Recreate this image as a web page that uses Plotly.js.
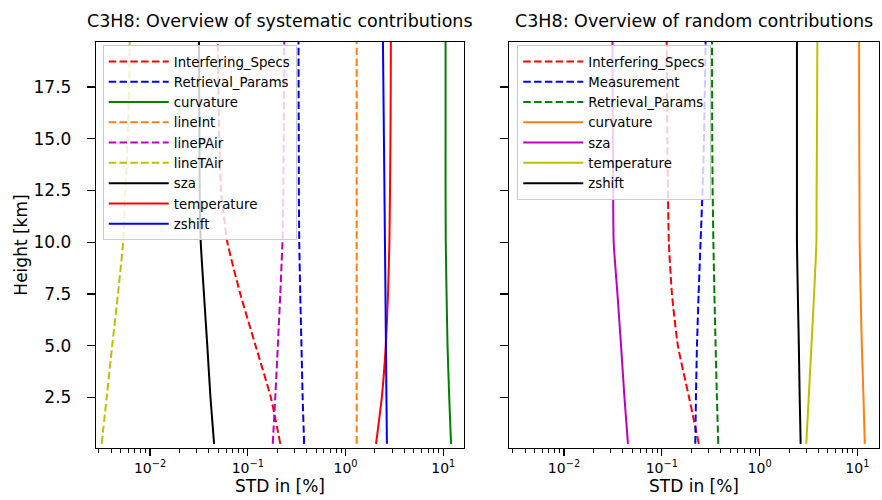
<!DOCTYPE html>
<html>
<head>
<meta charset="utf-8">
<script src="https://cdn.plot.ly/plotly-3.0.1.min.js"></script>
<style>html,body{margin:0;padding:0;background:#fff;}#chart{width:882px;height:500px;}</style>
</head>
<body>
<div id="chart"></div>
<script>
// Heights [km]
const heights = [0.25, 2.5, 5, 7.5, 10, 12.5, 15, 17.5, 20];

// Systematic contributions (STD in %)
const sysInterferingSpecs = [0.215, 0.172, 0.120, 0.0838, 0.0618, 0.0531, 0.0510, 0.0500, 0.0490];
const sysRetrievalParams  = [0.377, 0.364, 0.354, 0.344, 0.336, 0.333, 0.332, 0.331, 0.330];
const sysCurvature        = [12.0, 11.5, 11.05, 10.8, 10.6, 10.55, 10.55, 10.55, 10.55];
const sysLineInt          = [1.30, 1.30, 1.30, 1.30, 1.30, 1.30, 1.30, 1.30, 1.30];
const sysLinePAir         = [0.180, 0.191, 0.203, 0.215, 0.226, 0.231, 0.233, 0.235, 0.236];
const sysLineTAir         = [0.0032, 0.0036, 0.0041, 0.0047, 0.0053, 0.00558, 0.0059, 0.0061, 0.0062];
const sysSza              = [0.0452, 0.0415, 0.0385, 0.0356, 0.0330, 0.0322, 0.0320, 0.0318, 0.0317];
const sysTemperature      = [2.05, 2.35, 2.58, 2.72, 2.81, 2.85, 2.88, 2.90, 2.91];
const sysZshift           = [2.65, 2.62, 2.59, 2.56, 2.53, 2.50, 2.47, 2.44, 2.41];

// Random contributions (STD in %)
const rndInterferingSpecs = [0.239, 0.190, 0.146, 0.127, 0.118, 0.1155, 0.114, 0.113, 0.112];
const rndMeasurement      = [0.220, 0.2235, 0.229, 0.238, 0.249, 0.261, 0.270, 0.276, 0.281];
const rndRetrievalParams  = [0.378, 0.366, 0.355, 0.345, 0.337, 0.331, 0.328, 0.327, 0.326];
const rndCurvature        = [11.9, 11.55, 11.1, 10.8, 10.55, 10.5, 10.45, 10.42, 10.4];
const rndSza              = [0.0451, 0.0415, 0.0383, 0.0352, 0.0322, 0.0318, 0.0316, 0.0314, 0.0313];
const rndTemperature      = [3.00, 3.18, 3.39, 3.61, 3.81, 3.83, 3.86, 3.88, 3.90];
const rndZshift           = [2.63, 2.57, 2.52, 2.46, 2.41, 2.41, 2.41, 2.41, 2.41];

// Tick labels
const xTickVals = [0.01, 0.1, 1, 10];
const xTickText = ['10<sup>\u22122</sup>', '10<sup>\u22121</sup>', '10<sup>0</sup>', '10<sup>1</sup>'];
const yTickVals = [2.5, 5.0, 7.5, 10.0, 12.5, 15.0, 17.5];
const yTickText = ['2.5', '5.0', '7.5', '10.0', '12.5', '15.0', '17.5'];

const titles = ['C3H8: Overview of systematic contributions', 'C3H8: Overview of random contributions'];
const xTitle = 'STD in [%]';
const yTitle = 'Height [km]';

// minor tick positions for log axis
const minorVals = [];
[0.001, 0.01, 0.1, 1, 10].forEach(d => { for (let k = 2; k <= 9; k++) minorVals.push(d * k); });

const C = {r:'#ff0000', b:'#0000ff', g:'#008000', o:'#ff7f0e', m:'#bf00bf', y:'#bfbf00', k:'#000000'};
const DASH = '7.5px,3.3px';
const LW = 2;

function tr(name, x, color, dashed, axis, legend) {
  return {
    type: 'scatter', mode: 'lines', name: name, x: x, y: heights,
    xaxis: axis[0], yaxis: axis[1], legend: legend,
    line: {color: color, width: LW, dash: dashed ? DASH : 'solid', shape: 'spline', smoothing: 0.5}
  };
}
const A1 = ['x', 'y'], A2 = ['x2', 'y2'];
const data = [
  tr('Interfering_Specs', sysInterferingSpecs, C.r, true, A1, 'legend'),
  tr('Retrieval_Params', sysRetrievalParams, C.b, true, A1, 'legend'),
  tr('curvature', sysCurvature, C.g, false, A1, 'legend'),
  tr('lineInt', sysLineInt, C.o, true, A1, 'legend'),
  tr('linePAir', sysLinePAir, C.m, true, A1, 'legend'),
  tr('lineTAir', sysLineTAir, C.y, true, A1, 'legend'),
  tr('sza', sysSza, C.k, false, A1, 'legend'),
  tr('temperature', sysTemperature, C.r, false, A1, 'legend'),
  tr('zshift', sysZshift, C.b, false, A1, 'legend'),

  tr('Interfering_Specs', rndInterferingSpecs, C.r, true, A2, 'legend2'),
  tr('Measurement', rndMeasurement, C.b, true, A2, 'legend2'),
  tr('Retrieval_Params', rndRetrievalParams, C.g, true, A2, 'legend2'),
  tr('curvature', rndCurvature, C.o, false, A2, 'legend2'),
  tr('sza', rndSza, C.m, false, A2, 'legend2'),
  tr('temperature', rndTemperature, C.y, false, A2, 'legend2'),
  tr('zshift', rndZshift, C.k, false, A2, 'legend2')
];

const FONT = 'DejaVu Sans, sans-serif';
function xax(domain, range) {
  return {
    type: 'log', domain: domain, range: range, showgrid: false, zeroline: false,
    showline: true, mirror: true, linecolor: '#000', linewidth: 1.2,
    ticks: 'outside', ticklen: 7, tickwidth: 1.2, tickcolor: '#000',
    tickmode: 'array', tickvals: xTickVals, ticktext: xTickText,
    tickfont: {family: FONT, size: 14, color: '#000'},
    minor: {ticks: 'outside', ticklen: 4, tickwidth: 1, tickcolor: '#000', tickmode: 'array', tickvals: minorVals, showgrid: false},
    title: {text: xTitle, font: {family: FONT, size: 17, color: '#000'}, standoff: 3},
    automargin: false
  };
}
function yax(anchor, showLabels, titleOn) {
  const o = {
    range: [0.05, 19.68], showgrid: false, zeroline: false, anchor: anchor,
    showline: true, mirror: true, linecolor: '#000', linewidth: 1.2,
    ticks: 'outside', ticklen: 8, tickwidth: 1.2, tickcolor: '#000', ticklabelstandoff: 12,
    tickmode: 'array', tickvals: yTickVals, ticktext: yTickText, showticklabels: showLabels,
    tickfont: {family: FONT, size: 17, color: '#000'}, automargin: false
  };
  if (titleOn) o.title = {text: yTitle, font: {family: FONT, size: 17, color: '#000'}, standoff: 1};
  return o;
}

const legendCommon = {
  bgcolor: 'rgba(255,255,255,0.8)', bordercolor: '#cccccc', borderwidth: 1,
  font: {family: FONT, size: 13.3, color: '#000'}, xanchor: 'left', yanchor: 'top',
  tracegroupgap: 0, itemwidth: 60, traceorder: 'normal'
};

const layout = {
  width: 882, height: 500,
  margin: {l: 96, r: 3, t: 42, b: 52},
  paper_bgcolor: '#fff', plot_bgcolor: '#fff',
  font: {family: FONT, color: '#000'},
  showlegend: true,
  xaxis: xax([0, 0.470], [-2.553, 1.212]),
  yaxis: yax('x', true, true),
  xaxis2: Object.assign(xax([0.5275, 1], [-2.562, 1.221]), {anchor: 'y2'}),
  yaxis2: Object.assign(yax('x2', false, false), {matches: 'y'}),
  legend: Object.assign({}, legendCommon, {x: 0.0086, y: 0.992}),
  legend2: Object.assign({}, legendCommon, {x: 0.538, y: 0.992}),
  annotations: [
    {text: titles[0], xref: 'x domain', yref: 'paper', x: 0.5, y: 1, yshift: 21, yanchor: 'middle', showarrow: false, font: {family: FONT, size: 17.5, color: '#000'}},
    {text: titles[1], xref: 'x2 domain', yref: 'paper', x: 0.5, y: 1, yshift: 21, yanchor: 'middle', showarrow: false, font: {family: FONT, size: 17.5, color: '#000'}}
  ]
};
layout.xaxis.anchor = 'y';

Plotly.newPlot('chart', data, layout, {displayModeBar: false, staticPlot: true});
</script>
</body>
</html>
